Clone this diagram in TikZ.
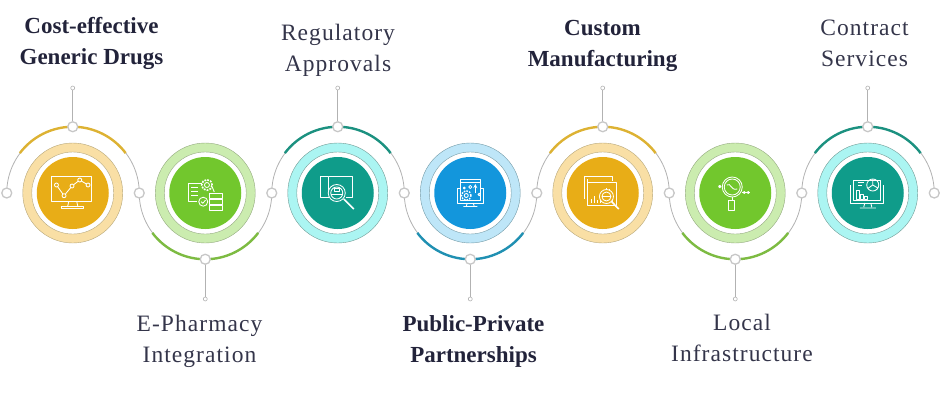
\documentclass[tikz,border=0pt]{standalone}
\usepackage{fontspec}
\usetikzlibrary{backgrounds}
\newfontfamily\labfont[LetterSpace=4.5]{Liberation Serif}
\newfontfamily\strongfont{Liberation Serif}
\definecolor{goldA}{HTML}{E8AD17}
\definecolor{goldB}{HTML}{F9DFA5}
\definecolor{goldC}{HTML}{DDB233}
\definecolor{leafA}{HTML}{72C72D}
\definecolor{leafB}{HTML}{CBECAF}
\definecolor{leafC}{HTML}{7DBB42}
\definecolor{tealA}{HTML}{0F9C8A}
\definecolor{tealB}{HTML}{ABF5F2}
\definecolor{tealC}{HTML}{1C9180}
\definecolor{skyA}{HTML}{1396DC}
\definecolor{skyB}{HTML}{BEE6F8}
\definecolor{skyC}{HTML}{2090B2}
\definecolor{ink}{HTML}{22233A}
\tikzset{band/.style = {circle, minimum size=100pt, inner sep=0pt, outer sep=0pt, draw},
    hole/.style = {circle, fill=white, minimum size=82pt, inner sep=0pt, draw},
    disc/.style = {circle, minimum size=72pt, inner sep=0pt},
    j/.style = {circle, fill=white, draw=black!22, line width=1.3pt, minimum size=10pt, inner sep=0pt},
    tip/.style = {circle, fill=white, draw=black!30, line width=.6pt, minimum size=4pt, inner sep=0pt},
    wire/.style = {draw=black!30, line width=.8pt},
    rim/.style = {line width=2.4pt},
    ic/.style = {draw=white, line width=.85pt, line join=round},
    lab/.style = {align=center, text=ink!92, font=\labfont\fontsize{23.5}{31}\selectfont},
    strong/.style = {align=center, text=ink, font=\strongfont\bfseries\fontsize{23}{31}\selectfont}}

\begin{document}
\begin{tikzpicture}[x=1pt, y=1pt]
    \useasboundingbox (0,0) rectangle (950,400);
    \foreach \n/\x in {0/6.75, 1/139.25, 2/271.75, 3/404.25, 4/536.75, 5/669.25, 6/801.75, 7/934.25}
        \node[j] (j\n) at (\x,207) {};

    \foreach \n/\x/\s/\A/\B/\C [evaluate=\n as \p using int(\n-1)] in {1/72.75/1/goldA/goldB/goldC, 2/205.25/-1/leafA/leafB/leafC,
        3/337.75/1/tealA/tealB/tealC, 4/470.25/-1/skyA/skyB/skyC, 5/602.75/1/goldA/goldB/goldC,
        6/735.25/-1/leafA/leafB/leafC, 7/867.75/1/tealA/tealB/tealC} {
        \node[band, fill=\B, draw=\C!60!black!60] (b\n) at (\x,207) {};
        \node[hole, draw=\C!60!black!60] (h\n) at (b\n) {};
        \node[disc, fill=\A] (c\n) at (b\n) {};
        \node[j] (k\n) at (\x,{207+66.25*\s}) {};
        \node[tip] (t\n) at (\x,{207+(\s<0 ? -106 : 105)}) {};
        \begin{scope}[on background layer]
            \draw[wire] (j\p) arc[start angle=180, delta angle=-180*\s, radius=66.25];
            \draw[rim, \C] (c\n) ++({180-37*\s}:66.25) arc[start angle={180-37*\s}, delta angle=-106*\s, radius=66.25];
            \draw[wire, line width=1pt] (k\n) -- (t\n);
        \end{scope}
    }

    % chart on a monitor
    \begin{scope}[shift={(c1)}, ic]
        \draw (-21,17) rectangle (19,-8.5);
        \draw (-4,-8.5) -- (-5,-13) (4,-8.5) -- (5,-13);
        \draw (-11,-15) rectangle (11,-13);
        \draw (-16.3,8) -- (-8.7,-2.7) -- (-.7,7) -- (7,13) -- (15.3,8);
        \foreach \p in {(-16.3,8), (-8.7,-2.7), (-.7,7), (7,13), (15.3,8)}
            \draw[fill=goldA] \p circle (2);
    \end{scope}
    % sheet, gear and server
    \begin{scope}[shift={(c2)}, ic]
        \draw (-3,10) -- (-17,10) -- (-17,-8) -- (-8,-8);
        \foreach \y in {6,2,-2} \draw (-14,\y) -- (-7,\y);
        \draw (1.7,8) circle (2.5);
        \draw[dashed, dash pattern=on 1.8pt off 1.2pt, line width=1.6pt] (1.7,8) circle (5.3);
        \draw[fill=leafA] (-2,-8.7) circle (4.5);
        \draw (-4,-8.7) -- (-2.5,-10.3) -- (.2,-7.2);
        \draw (7,6) -- (9,1);
        \foreach \y in {0,-6,-12} \draw (4,\y) rectangle (17,{\y-5});
    \end{scope}
    % board under a lens
    \begin{scope}[shift={(c3)}, ic]
        \draw (-9,17) -- (15,17) -- (15,-4) -- (8,-4);
        \draw (-9,-4) -- (-17.5,-4) -- (-17.5,17) -- (-9,17) -- (-9,2);
        \draw[fill=tealA] (-1,0) circle (8.5);
        \draw (-1,0) circle (6);
        \draw (-7,-1) -- (5,-1);
        \draw (-3.5,2) rectangle (1.5,5);
        \draw[line width=1.6pt] (6,-6) -- (16,-16);
    \end{scope}
    % window with gear
    \begin{scope}[shift={(c4)}, ic]
        \draw (-12.5,5) rectangle (13,-10);
        \draw[fill=skyA] (-9.5,14) rectangle (10,-7);
        \draw (-9.5,10.5) -- (10,10.5);
        \draw (-3,-10) -- (-4,-13.5) (3,-10) -- (4,-13.5) (-7,-13.5) -- (7,-13.5);
        \draw[fill=skyA] (-4,-2.5) circle (2);
        \draw[dashed, dash pattern=on 1.6pt off 1.2pt, line width=1.4pt] (-4,-2.5) circle (4.8);
        \draw[-stealth] (5,0) -- (5,9);
        \draw (-6,5) circle (1) (0,6) circle (1.6) (9,-1.5) circle (1.3);
    \end{scope}
    % two sheets and a lens over bars
    \begin{scope}[shift={(c5)}, ic]
        \draw (-18,-6) -- (-18,17) -- (10,17) -- (10,12);
        \draw (-15,11) rectangle (14,-12);
        \draw (-15,14) -- (-15,11);
        \foreach \x/\h in {-11/4, -8/7, -5/3, -2/9, 1/13, 4/15, 7/14, 10/9}
            \draw (\x,-10) -- (\x,{-10+\h});
        \draw[fill=goldA] (3.7,-3.5) circle (7);
        \draw (-.5,-3.5) -- (7.5,-3.5) (3.7,-3.5) circle (4.5);
        \draw[line width=1.6pt] (8.7,-8.5) -- (16,-16);
    \end{scope}
    % probe with a lens
    \begin{scope}[shift={(c6)}, ic]
        \draw (-3,6) circle (10);
        \draw (-3,6) circle (8);
        \draw (-8.5,8) .. controls (-4,11) and (-5,2) .. (2,4);
        \draw (-3,-4) -- (-3,-7);
        \draw (-6.5,-7) rectangle (-.5,-17);
        \draw[fill=white] (-15.5,6.5) circle (1.2);
        \draw (7,.5) -- (15,.5);
        \foreach \x in {9,13} \draw[fill=white] (\x,.5) circle (1);
    \end{scope}
    % pie and bars on a monitor
    \begin{scope}[shift={(c7)}, ic]
        \draw (-17.5,8) -- (-17.5,-10) -- (16,-10) -- (16,8);
        \draw (-14,13) rectangle (13,-7);
        \draw (5,8) circle (6);
        \draw (5,8) -- (5,14) (5,8) -- (10,5) (5,8) -- (0,4.5);
        \foreach \x/\h in {-11/9, -7/5, -3/3} \draw (\x,-6) rectangle (\x+2.5,{-6+\h});
        \draw (-10,11) -- (-4,11) (-10,8) -- (-6,8);
        \draw (-3,-10) -- (-4,-14) (3,-10) -- (4,-14) (-8,-15) -- (8,-15);
    \end{scope}

    \node[strong] (l1) at (91.5,356.5) {Cost-effective\\Generic Drugs};
    \node[lab] (l2) at (199.5,58.5) {E-Pharmacy\\Integration};
    \node[lab] (l3) at (338,349.5) {Regulatory\\Approvals};
    \node[strong] (l4) at (473.5,58.5) {Public-Private\\Partnerships};
    \node[strong] (l5) at (602.5,354) {Custom\\Manufacturing};
    \node[lab] (l6) at (742,62) {Local\\Infrastructure};
    \node[lab] (l7) at (864.5,357) {Contract\\Services};
\end{tikzpicture}
\end{document}
